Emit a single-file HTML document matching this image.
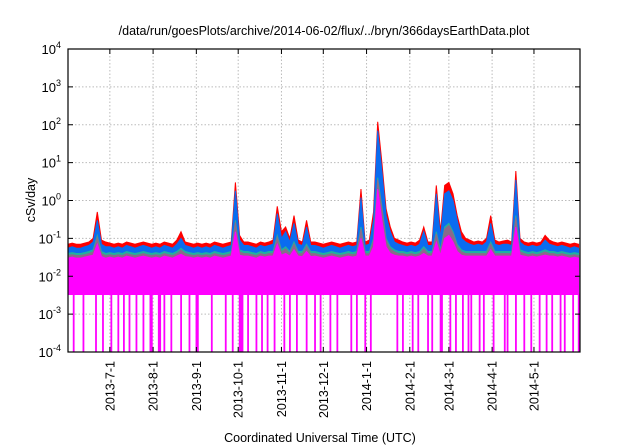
<!DOCTYPE html>
<html><head><meta charset="utf-8"><style>
body{margin:0;background:#fff}
svg{display:block;font-family:"Liberation Sans",sans-serif}
</style></head><body>
<svg id="chart" width="640" height="448" viewBox="0 0 640 448">
<text x="324" y="35" font-size="12.5" text-anchor="middle">/data/run/goesPlots/archive/2014-06-02/flux/../bryn/366daysEarthData.plot</text>
<text x="320" y="442" font-size="12.5" text-anchor="middle">Coordinated Universal Time (UTC)</text>
<text transform="translate(35,200) rotate(-90)" font-size="12.5" text-anchor="middle">cSv/day</text>
<g id="grid"></g>
<g id="series"></g>
<g id="axes"></g>
<rect x="68" y="49" width="512" height="303" fill="none" stroke="#000" stroke-width="1.2"/>
</svg>
<script>
// day index 0 = 2013-06-01, samples every 3 days
const sampleStep = 3;
const redValues = [.07,.075,.07,.07,.075,.08,.1,.5,.09,.08,.075,.07,.075,.07,.08,.075,.07,.075,.08,.075,.07,.075,.07,.08,.075,.07,.09,.15,.08,.075,.07,.075,.07,.075,.07,.08,.075,.07,.075,.08,3,.12,.08,.08,.075,.07,.08,.075,.08,.09,.7,.15,.2,.1,.4,.09,.08,.3,.08,.08,.075,.07,.075,.08,.075,.07,.075,.08,.075,.08,2,.08,.09,.5,120,10,.6,.2,.1,.09,.08,.075,.08,.075,.09,.2,.08,.08,2.5,.15,2.5,3,1.5,.4,.15,.1,.09,.08,.085,.08,.1,.4,.09,.08,.085,.09,.08,6,.1,.08,.075,.08,.075,.08,.12,.09,.08,.075,.08,.075,.07,.075,.07];
const blueValues = [.055,.06,.055,.055,.06,.065,.08,.3,.07,.06,.06,.055,.06,.055,.065,.06,.055,.06,.065,.06,.055,.06,.055,.065,.06,.055,.07,.1,.065,.06,.055,.06,.055,.06,.055,.065,.06,.055,.06,.065,1.8,.09,.065,.065,.06,.055,.065,.06,.065,.07,.45,.1,.15,.08,.25,.07,.065,.2,.065,.065,.06,.055,.06,.065,.06,.055,.06,.065,.06,.065,1.2,.065,.07,.3,70,6,.4,.15,.08,.07,.065,.06,.065,.06,.07,.15,.065,.065,1.5,.1,1.5,1.8,1,.3,.1,.08,.07,.065,.07,.065,.08,.25,.07,.065,.07,.07,.065,3.5,.08,.065,.06,.065,.06,.065,.09,.07,.065,.06,.065,.06,.055,.06,.055];
const tealValues = [.04,.042,.04,.04,.042,.045,.05,.12,.045,.04,.042,.04,.042,.04,.045,.042,.04,.042,.045,.042,.04,.042,.04,.045,.042,.04,.045,.055,.045,.042,.04,.042,.04,.042,.04,.045,.042,.04,.042,.045,.3,.05,.045,.045,.042,.04,.045,.042,.045,.045,.12,.05,.06,.045,.08,.045,.045,.07,.045,.045,.042,.04,.042,.045,.042,.04,.042,.045,.042,.045,.2,.045,.045,.1,4,.7,.1,.06,.05,.045,.045,.042,.045,.042,.045,.06,.045,.045,.15,.05,.2,.25,.15,.07,.05,.045,.045,.045,.045,.045,.045,.08,.045,.045,.045,.045,.045,.4,.05,.045,.042,.045,.042,.045,.05,.045,.045,.042,.045,.042,.04,.042,.04];
const magentaTop = [.03,.032,.03,.03,.032,.034,.036,.07,.033,.03,.032,.03,.032,.03,.034,.032,.03,.032,.034,.032,.03,.032,.03,.034,.032,.03,.034,.038,.033,.032,.03,.032,.03,.032,.03,.034,.032,.03,.032,.034,.15,.036,.034,.034,.032,.03,.034,.032,.034,.034,.07,.036,.04,.034,.05,.034,.033,.045,.033,.034,.032,.03,.032,.034,.032,.03,.032,.034,.032,.034,.1,.034,.034,.06,2,.3,.06,.04,.036,.034,.034,.032,.034,.032,.034,.04,.034,.034,.08,.036,.1,.12,.08,.045,.036,.034,.034,.034,.034,.034,.034,.05,.034,.034,.034,.034,.034,.2,.036,.034,.032,.034,.032,.034,.036,.034,.034,.032,.034,.032,.03,.032,.03];
const magentaLow = .0033;
const dropoutDays = [4,11,20,25,31,36,40,44,49,54,59,60,65,66,69,74,81,87,92,93,103,113,118,123,124,125,129,135,139,143,148,155,159,164,171,177,181,188,193,203,207,213,217,236,240,247,251,258,261,267,268,274,278,283,287,289,295,298,305,313,315,321,327,332,338,343,347,353,356,362,366];
const monthTickDays = [30,61,92,122,153,183,214,245,273,304,334];
const monthTickLabels = ["2013-7-1","2013-8-1","2013-9-1","2013-10-1","2013-11-1","2013-12-1","2014-1-1","2014-2-1","2014-3-1","2014-4-1","2014-5-1"];
const yTickExps = [-4,-3,-2,-1,0,1,2,3,4];

const X0=68,X1=580,Y0=49,Y1=352,DMAX=367,LMIN=-4,LMAX=4;
const xs=d=>X0+(d/DMAX)*(X1-X0);
const ys=v=>Y1-(Math.log10(v)-LMIN)/(LMAX-LMIN)*(Y1-Y0);
const NS='http://www.w3.org/2000/svg';
function mk(tag,parent){const e=document.createElementNS(NS,tag);parent.appendChild(e);return e;}
const grid=document.getElementById('grid'),axes=document.getElementById('axes'),series=document.getElementById('series');

yTickExps.forEach(e=>{
  const y=ys(Math.pow(10,e));
  if(e>LMIN&&e<LMAX){const l=mk('line',grid);l.setAttribute('x1',X0);l.setAttribute('x2',X1);l.setAttribute('y1',y);l.setAttribute('y2',y);l.setAttribute('stroke','#bbb');l.setAttribute('stroke-dasharray','1.5,2');
  
  }
  const t=mk('line',axes);t.setAttribute('x1',X0);t.setAttribute('x2',X0+5);t.setAttribute('y1',y);t.setAttribute('y2',y);t.setAttribute('stroke','#000');
  
  
  const t2=mk('line',axes);t2.setAttribute('x1',X1-5);t2.setAttribute('x2',X1);t2.setAttribute('y1',y);t2.setAttribute('y2',y);t2.setAttribute('stroke','#000');
  
  
  const tx=mk('text',axes);tx.setAttribute('x',X0-7);tx.setAttribute('y',y+5);tx.setAttribute('text-anchor','end');tx.setAttribute('font-size','13');
  
  
  tx.innerHTML='10<tspan dy="-6" font-size="9">'+e+'</tspan>';
});
monthTickDays.forEach((d,i)=>{
  const x=xs(d);
  const l=mk('line',grid);l.setAttribute('x1',x);l.setAttribute('x2',x);l.setAttribute('y1',Y0);l.setAttribute('y2',Y1);l.setAttribute('stroke','#bbb');l.setAttribute('stroke-dasharray','1.5,2');
  
  
  const t=mk('line',axes);t.setAttribute('x1',x);t.setAttribute('x2',x);t.setAttribute('y1',Y1-5);t.setAttribute('y2',Y1);t.setAttribute('stroke','#000');
  
  
  const t2=mk('line',axes);t2.setAttribute('x1',x);t2.setAttribute('x2',x);t2.setAttribute('y1',Y0);t2.setAttribute('y2',Y0+5);t2.setAttribute('stroke','#000');
  
  
  const tx=mk('text',axes);tx.setAttribute('transform','translate('+(x+4.5)+','+(Y1+9)+') rotate(-90)');tx.setAttribute('text-anchor','end');tx.setAttribute('font-size','12.5');
  
  
  tx.textContent=monthTickLabels[i];
});

function area(top,bottomVal,color,name){
  let d='M'+xs(0)+','+ys(bottomVal);
  top.forEach((v,i)=>{d+=' L'+Math.min(xs(i*sampleStep),X1)+','+ys(v);});
  d+=' L'+xs((top.length-1)*sampleStep)+','+ys(bottomVal)+' Z';
  const p=mk('path',series);p.setAttribute('d',d);p.setAttribute('fill',color);p.setAttribute('stroke',color);p.setAttribute('stroke-width','1');
  
  
}
area(redValues,magentaLow,'#ff0000','red-series');
area(blueValues,magentaLow,'#0a6cf0','blue-series');
area(tealValues,magentaLow,'#20b0a0','teal-series');
area(tealValues.map(v=>v*0.88),magentaLow,'#8a6a8a','gray-series');
area(magentaTop,magentaLow,'#ff00ff','magenta-series');
dropoutDays.forEach(d=>{
  const r=mk('rect',series);r.setAttribute('x',xs(d)-0.8);r.setAttribute('width',1.8);r.setAttribute('y',ys(magentaLow)-1);r.setAttribute('height',Y1-ys(magentaLow)+1);r.setAttribute('fill','#ff00ff');
  
  
});
</script>
</body></html>
